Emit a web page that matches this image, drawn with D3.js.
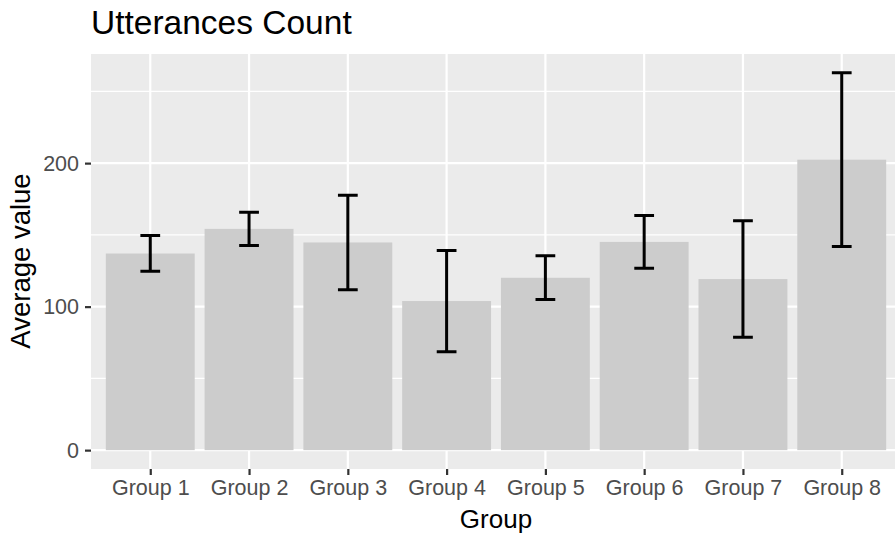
<!DOCTYPE html>
<html>
<head>
<meta charset="utf-8">
<script src="https://cdn.jsdelivr.net/npm/d3@7"></script>
<style>
  html, body { margin: 0; padding: 0; background: #ffffff; }
  svg { display: block; font-family: "Liberation Sans", Arial, Helvetica, sans-serif; }
</style>
</head>
<body>
<svg id="chart" width="895" height="534"></svg>
<script>
// Group means with their error bar bounds
const groups = ["Group 1", "Group 2", "Group 3", "Group 4", "Group 5", "Group 6", "Group 7", "Group 8"];
const means  = [137.0, 154.2, 144.7, 103.9, 120.1, 145.1, 119.2, 202.4];
const lower  = [124.7, 142.6, 111.7, 68.6, 104.9, 126.8, 78.6, 141.9];
const upper  = [149.5, 165.8, 177.7, 139.1, 135.4, 163.5, 159.8, 262.9];
const yMajorTicks = [0, 100, 200];
const yMinorTicks = [50, 150, 250];

const data = groups.map((g, i) => ({ group: g, mean: means[i], lo: lower[i], hi: upper[i] }));

const svg = d3.select("#chart");
const panel = { left: 91, right: 901, top: 54, bottom: 469 };

// Discrete x positions with 0.6 step of padding on each side
const x = d3.scalePoint().domain(groups).range([panel.left, panel.right]).padding(0.6);
const step = x.step();

// Continuous y with 5% expansion around [0, max]
const yMax = d3.max(upper);
const yMin = 0;
const pad = (yMax - yMin) * 0.05;
const y = d3.scaleLinear().domain([yMin - pad, yMax + pad]).range([panel.bottom, panel.top]);

// Panel background
svg.append("rect")
  .attr("x", panel.left).attr("y", panel.top)
  .attr("width", panel.right - panel.left).attr("height", panel.bottom - panel.top)
  .attr("fill", "#EBEBEB");

// Minor grid
svg.append("g").selectAll("line").data(yMinorTicks).join("line")
  .attr("x1", panel.left).attr("x2", panel.right)
  .attr("y1", d => y(d)).attr("y2", d => y(d))
  .attr("stroke", "#ffffff").attr("stroke-width", 1.1);

// Major grid
svg.append("g").selectAll("line").data(yMajorTicks).join("line")
  .attr("x1", panel.left).attr("x2", panel.right)
  .attr("y1", d => y(d)).attr("y2", d => y(d))
  .attr("stroke", "#ffffff").attr("stroke-width", 2.2);
svg.append("g").selectAll("line").data(groups).join("line")
  .attr("x1", d => x(d)).attr("x2", d => x(d))
  .attr("y1", panel.top).attr("y2", panel.bottom)
  .attr("stroke", "#ffffff").attr("stroke-width", 2.2);

// Bars
const barW = step * 0.9;
svg.append("g").selectAll("rect").data(data).join("rect")
  .attr("x", d => x(d.group) - barW / 2)
  .attr("width", barW)
  .attr("y", d => y(d.mean))
  .attr("height", d => y(0) - y(d.mean))
  .attr("fill", "#CCCCCC");

// Error bars
const capW = step * 0.2;
const eb = svg.append("g").attr("stroke", "#000000").attr("stroke-width", 3).attr("fill", "none");
eb.selectAll("path").data(data).join("path")
  .attr("d", d => {
    const cx = x(d.group), t = y(d.hi), b = y(d.lo);
    return `M${cx - capW / 2},${t}H${cx + capW / 2}M${cx},${t}V${b}M${cx - capW / 2},${b}H${cx + capW / 2}`;
  });

// Y axis
const yAxis = svg.append("g").attr("transform", `translate(${panel.left},0)`)
  .call(d3.axisLeft(y).tickValues(yMajorTicks).tickSize(6).tickPadding(6).tickFormat(d3.format("d")));
yAxis.select(".domain").remove();
yAxis.selectAll(".tick line").attr("stroke", "#333333").attr("stroke-width", 2.2);
yAxis.selectAll(".tick text").attr("fill", "#4D4D4D").attr("font-size", 21.5)
  .attr("font-family", "'Liberation Sans', Arial, sans-serif");

// X axis
const xAxis = svg.append("g").attr("transform", `translate(0,${panel.bottom})`)
  .call(d3.axisBottom(x).tickSize(6).tickPadding(5));
xAxis.select(".domain").remove();
xAxis.selectAll(".tick line").attr("stroke", "#333333").attr("stroke-width", 2.2);
xAxis.selectAll(".tick text").attr("fill", "#4D4D4D").attr("font-size", 21.5)
  .attr("font-family", "'Liberation Sans', Arial, sans-serif");

// Titles
svg.append("text")
  .attr("x", panel.left).attr("y", 34)
  .attr("font-size", 33.5).attr("fill", "#000000")
  .text("Utterances Count");

svg.append("text")
  .attr("x", (panel.left + panel.right) / 2).attr("y", 528)
  .attr("text-anchor", "middle").attr("font-size", 26).attr("fill", "#000000")
  .text("Group");

svg.append("text")
  .attr("transform", `translate(30,261) rotate(-90)`)
  .attr("text-anchor", "middle").attr("font-size", 27.5).attr("fill", "#000000")
  .text("Average value");
</script>
</body>
</html>
